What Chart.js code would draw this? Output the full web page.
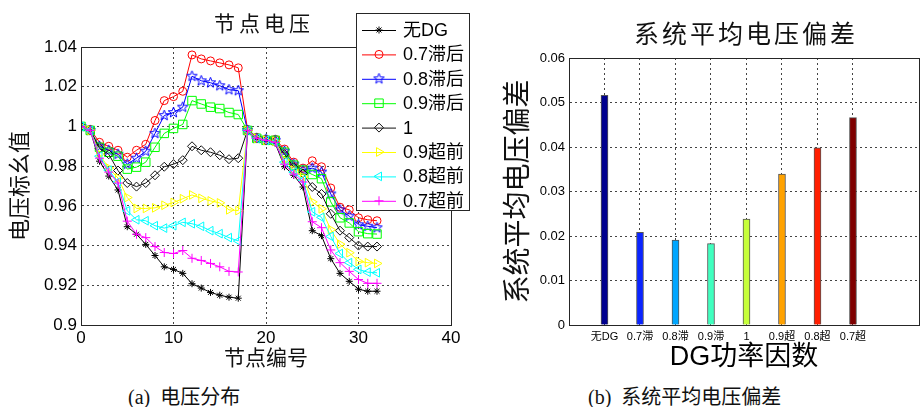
<!DOCTYPE html>
<html>
<head>
<meta charset="utf-8">
<script src="https://cdn.jsdelivr.net/npm/chart.js@4/dist/chart.umd.min.js"></script>
<style>
  html, body { margin: 0; padding: 0; background: #fff; }
  body { width: 920px; height: 407px; position: relative; overflow: hidden; }
  #leftBox { position: absolute; left: 0; top: 0; width: 470px; height: 380px; }
  #rightBox { position: absolute; left: 480px; top: 0; width: 440px; height: 380px; }
  .caption { position: absolute; top: 386px; height: 22px; line-height: 22px; font-size: 20px; color: #111; white-space: nowrap;
             font-family: "Liberation Serif", "Noto Sans CJK SC", serif; }
</style>
</head>
<body>
<div id="leftBox"><canvas id="voltageChart"></canvas></div>
<div id="rightBox"><canvas id="deviationChart"></canvas></div>
<div class="caption" style="left:128px">(a)&nbsp; 电压分布</div>
<div class="caption" style="left:588px">(b)&nbsp; 系统平均电压偏差</div>
<script>
// ---- data: node voltages (p.u.) ----
const nodes = [0, 1, 2, 3, 4, 5, 6, 7, 8, 9, 10, 11, 12, 13, 14, 15, 16, 17, 18, 19, 20, 21, 22, 23, 24, 25, 26, 27, 28, 29, 30, 31, 32];

const noDG = [1.0, 0.998, 0.9825, 0.975, 0.968, 0.9495, 0.9457, 0.9406, 0.935, 0.9293, 0.928, 0.926, 0.9208, 0.9186, 0.9164, 0.915, 0.914, 0.9135,
  0.9975, 0.9935, 0.9925, 0.9915, 0.9797, 0.9754, 0.9695, 0.9475, 0.945, 0.9334, 0.926, 0.922, 0.918, 0.917, 0.917];
const lag07 = [1.0, 0.9985, 0.992, 0.990, 0.988, 0.9845, 0.988, 0.991, 1.003, 1.013, 1.015, 1.0177, 1.036, 1.034, 1.033, 1.032, 1.031, 1.0295,
  0.9985, 0.9945, 0.9935, 0.9935, 0.9886, 0.982, 0.979, 0.9827, 0.9797, 0.969, 0.9593, 0.958, 0.954, 0.953, 0.9525];
const lag08 = [1.0, 0.998, 0.990, 0.988, 0.986, 0.981, 0.984, 0.9875, 0.9965, 1.0055, 1.007, 1.0097, 1.0253, 1.023, 1.022, 1.0205, 1.0185, 1.018,
  0.998, 0.994, 0.9935, 0.993, 0.9875, 0.981, 0.978, 0.979, 0.977, 0.966, 0.958, 0.9548, 0.9505, 0.9497, 0.949];
const lag09 = [1.0, 0.998, 0.9895, 0.987, 0.985, 0.9785, 0.9795, 0.982, 0.9895, 0.9965, 0.999, 1.001, 1.013, 1.0113, 1.0097, 1.009, 1.007, 1.006,
  0.998, 0.994, 0.993, 0.993, 0.987, 0.9805, 0.978, 0.9758, 0.9737, 0.962, 0.954, 0.9514, 0.947, 0.946, 0.9458];
const unity = [1.0, 0.998, 0.989, 0.986, 0.9778, 0.9715, 0.9697, 0.9715, 0.9754, 0.9797, 0.981, 0.983, 0.990, 0.988, 0.987, 0.9855, 0.9835, 0.984,
  0.998, 0.994, 0.993, 0.9925, 0.986, 0.9795, 0.9763, 0.9695, 0.966, 0.956, 0.9475, 0.944, 0.940, 0.9395, 0.9395];
const lead09 = [1.0, 0.998, 0.986, 0.979, 0.974, 0.9642, 0.9587, 0.9587, 0.959, 0.9603, 0.9617, 0.9636, 0.9655, 0.9638, 0.9625, 0.9615, 0.958, 0.9576,
  0.998, 0.994, 0.993, 0.9925, 0.983, 0.978, 0.9746, 0.962, 0.9585, 0.948, 0.9407, 0.9364, 0.932, 0.9314, 0.931];
const lead08 = [1.0, 0.998, 0.985, 0.978, 0.972, 0.9575, 0.953, 0.9525, 0.950, 0.9488, 0.950, 0.9517, 0.951, 0.9497, 0.9475, 0.946, 0.944, 0.9423,
  0.998, 0.994, 0.993, 0.992, 0.982, 0.977, 0.973, 0.957, 0.9542, 0.9446, 0.936, 0.9314, 0.928, 0.9266, 0.9263];
const lead07 = [1.0, 0.998, 0.984, 0.977, 0.9715, 0.9523, 0.9457, 0.944, 0.9395, 0.9365, 0.936, 0.9375, 0.9336, 0.9325, 0.931, 0.9293, 0.927, 0.9267,
  0.998, 0.994, 0.993, 0.992, 0.981, 0.976, 0.972, 0.952, 0.949, 0.9378, 0.9314, 0.927, 0.9229, 0.921, 0.921];

const seriesNames = ["无DG", "0.7滞后", "0.8滞后", "0.9滞后", "1", "0.9超前", "0.8超前", "0.7超前"];
const seriesValues = [noDG, lag07, lag08, lag09, unity, lead09, lead08, lead07];
const voltageTicks = [0.9, 0.92, 0.94, 0.96, 0.98, 1.0, 1.02, 1.04];
const nodeTicks = [0, 10, 20, 30, 40];

// ---- data: average voltage deviation ----
const factorLabels = ["无DG", "0.7滞", "0.8滞", "0.9滞", "1", "0.9超", "0.8超", "0.7超"];
const factorPos = [1, 2, 3, 4, 5, 6, 7, 8];
const deviation = [0.0516, 0.0208, 0.0191, 0.0183, 0.0238, 0.0339, 0.0398, 0.0466];
const deviationTicks = [0, 0.01, 0.02, 0.03, 0.04, 0.05, 0.06];

// ---- styles ----
const lineColors = ["#000000", "#ff0000", "#0000ff", "#00ff00", "#111111", "#ffff00", "#00ffff", "#ff00ff"];
const barColors = ["#00008f", "#0a24ff", "#00a6ff", "#40ffbf", "#c6ff3a", "#ffa200", "#ff1e00", "#7f0000"];
const CJK = '"Liberation Sans", "Noto Sans CJK SC", sans-serif';

// blue pentagram marker (MATLAB 'p')
function makePentagram(color) {
  const c = document.createElement("canvas");
  c.width = 13; c.height = 13;
  const g = c.getContext("2d");
  g.strokeStyle = color; g.lineWidth = 1;
  g.beginPath();
  for (let k = 0; k < 10; k++) {
    const r = k % 2 === 0 ? 5.5 : 2.3;
    const a = -Math.PI / 2 + k * Math.PI / 5;
    const px = 6.5 + r * Math.cos(a), py = 6.5 + r * Math.sin(a);
    if (k === 0) g.moveTo(px, py); else g.lineTo(px, py);
  }
  g.closePath(); g.stroke();
  return c;
}

const markers = [
  { style: "star", r: 3.5, rot: 0 },
  { style: "circle", r: 4, rot: 0 },
  { style: makePentagram("#0000ff"), r: 5, rot: 0 },
  { style: "rect", r: 6, rot: 0 },
  { style: "rectRot", r: 4.5, rot: 0 },
  { style: "triangle", r: 5, rot: 90 },
  { style: "triangle", r: 5, rot: -90 },
  { style: "cross", r: 4.5, rot: 0 }
];

// axes box + in-plot legend
const boxPlugin = {
  id: "boxPlugin",
  afterDraw(chart, args, opts) {
    const { ctx, chartArea: a } = chart;
    ctx.save();
    ctx.strokeStyle = "#262626";
    ctx.lineWidth = 1;
    ctx.strokeRect(Math.round(a.left) + 0.5, Math.round(a.top) + 0.5, Math.round(a.right - a.left), Math.round(a.bottom - a.top));
    ctx.restore();

    if (opts.title) {
      ctx.save();
      ctx.fillStyle = "#111";
      ctx.font = opts.titleFont;
      ctx.textAlign = "center";
      ctx.textBaseline = "middle";
      if ("letterSpacing" in ctx) ctx.letterSpacing = opts.titleSpacing || "0px";
      ctx.fillText(opts.title, (a.left + a.right) / 2 + (opts.titleShift || 0), opts.titleY);
      ctx.restore();
    }

    if (opts.legend) {
      const L = opts.legend;
      ctx.save();
      ctx.fillStyle = "#fff";
      ctx.fillRect(L.x, L.y, L.w, L.h);
      ctx.strokeStyle = "#262626";
      ctx.lineWidth = 1;
      ctx.strokeRect(L.x + 0.5, L.y + 0.5, L.w, L.h);
      ctx.font = '18px ' + CJK;
      ctx.textBaseline = "middle";
      seriesNames.forEach((name, i) => {
        const y = L.y + L.first + i * L.step;
        ctx.strokeStyle = lineColors[i];
        ctx.lineWidth = 1;
        ctx.beginPath();
        ctx.moveTo(L.x + 6, y + 0.5);
        ctx.lineTo(L.x + 40, y + 0.5);
        ctx.stroke();
        const m = markers[i];
        ctx.fillStyle = "rgba(0,0,0,0)";
        Chart.helpers.drawPoint(ctx, { pointStyle: m.style, rotation: m.rot, radius: m.r, borderWidth: 1 }, L.x + 23, y);
        ctx.fillStyle = "#000";
        ctx.fillText(name, L.x + 47, y + 1);
      });
      ctx.restore();
    }
  }
};

const fmt = v => String(parseFloat(v.toFixed(3)));

// ---- (a) node voltage line chart ----
new Chart(document.getElementById("voltageChart").getContext("2d"), {
  type: "line",
  data: {
    datasets: seriesValues.map((vals, i) => ({
      label: seriesNames[i],
      data: vals.map((v, j) => ({ x: nodes[j], y: v })),
      borderColor: lineColors[i],
      backgroundColor: "rgba(0,0,0,0)",
      borderWidth: 1,
      pointStyle: markers[i].style,
      pointRadius: markers[i].r,
      pointRotation: markers[i].rot,
      pointBorderColor: lineColors[i],
      pointBackgroundColor: "rgba(0,0,0,0)",
      pointBorderWidth: 1,
      tension: 0,
      fill: false,
      order: 8 - i
    }))
  },
  options: {
    responsive: true,
    maintainAspectRatio: false,
    animation: false,
    events: [],
    layout: { padding: { top: 47, right: 19, left: 0, bottom: 0 } },
    plugins: {
      legend: { display: false },
      tooltip: { enabled: false },
      boxPlugin: {
        title: "节点电压",
        titleFont: '21px "Noto Sans CJK SC", sans-serif',
        titleSpacing: "4px",
        titleY: 23,
        titleShift: -2,
        legend: { x: 356, y: 13, w: 113, h: 197, first: 17, step: 24.4 }
      }
    },
    scales: {
      x: {
        type: "linear",
        min: 0, max: 40,
        afterBuildTicks: s => { s.ticks = nodeTicks.map(v => ({ value: v })); },
        afterFit: s => { s.height = 55; },
        ticks: { color: "#000", font: { family: CJK, size: 17 }, padding: 3, callback: v => fmt(v) },
        grid: { color: "#444", drawTicks: false },
        border: { display: true, color: "#262626", width: 1, dash: [2, 3] },
        title: { display: true, text: "节点编号", color: "#111", font: { family: CJK, size: 21 }, padding: { top: 0, bottom: 8 } }
      },
      y: {
        type: "linear",
        min: 0.9, max: 1.04,
        afterBuildTicks: s => { s.ticks = voltageTicks.map(v => ({ value: v })); },
        afterFit: s => { s.width = 81; },
        ticks: { color: "#000", font: { family: CJK, size: 17 }, padding: 4, callback: v => fmt(v) },
        grid: { color: "#444", drawTicks: false },
        border: { display: true, color: "#262626", width: 1, dash: [2, 3] },
        title: { display: true, text: "电压标幺值", color: "#111", font: { family: CJK, size: 22 }, padding: { top: 8, bottom: 0 } }
      }
    }
  },
  plugins: [boxPlugin]
});

// ---- (b) average voltage deviation bar chart ----
new Chart(document.getElementById("deviationChart").getContext("2d"), {
  type: "bar",
  data: {
    datasets: [{
      label: "系统平均电压偏差",
      data: deviation.map((v, i) => ({ x: factorPos[i], y: v })),
      backgroundColor: barColors,
      borderColor: "#555",
      borderWidth: 1,
      barThickness: 7
    }]
  },
  options: {
    responsive: true,
    maintainAspectRatio: false,
    animation: false,
    events: [],
    layout: { padding: { top: 58, right: 1, left: 0, bottom: 0 } },
    plugins: {
      legend: { display: false },
      tooltip: { enabled: false },
      boxPlugin: {
        title: "系统平均电压偏差",
        titleFont: '25px "Noto Sans CJK SC", sans-serif',
        titleSpacing: "3px",
        titleY: 33,
        titleShift: 2
      }
    },
    scales: {
      x: {
        type: "linear",
        min: 0, max: 9.86,
        offset: false,
        afterBuildTicks: s => { s.ticks = factorPos.map(v => ({ value: v })); },
        afterFit: s => { s.height = 55; },
        ticks: { color: "#000", font: { family: CJK, size: 11 }, padding: 5, autoSkip: false, maxRotation: 0,
                 callback: (v, i) => factorLabels[i] },
        grid: { color: "#444", drawTicks: false, offset: false },
        border: { display: true, color: "#262626", width: 1, dash: [2, 3] },
        title: { display: true, text: "DG功率因数", color: "#000", font: { family: CJK, size: 27 }, padding: { top: 0, bottom: 6 } }
      },
      y: {
        type: "linear",
        min: 0, max: 0.06,
        afterBuildTicks: s => { s.ticks = deviationTicks.map(v => ({ value: v })); },
        afterFit: s => { s.width = 89; },
        ticks: { color: "#000", font: { family: CJK, size: 13 }, padding: 4, callback: v => (v === 0 ? "0" : v.toFixed(2)) },
        grid: { color: "#444", drawTicks: false },
        border: { display: true, color: "#262626", width: 1, dash: [2, 3] },
        title: { display: true, text: "系统平均电压偏差", color: "#111", font: { family: CJK, size: 28 }, padding: { top: 22, bottom: 0 } }
      }
    }
  },
  plugins: [boxPlugin]
});
</script>
</body>
</html>
